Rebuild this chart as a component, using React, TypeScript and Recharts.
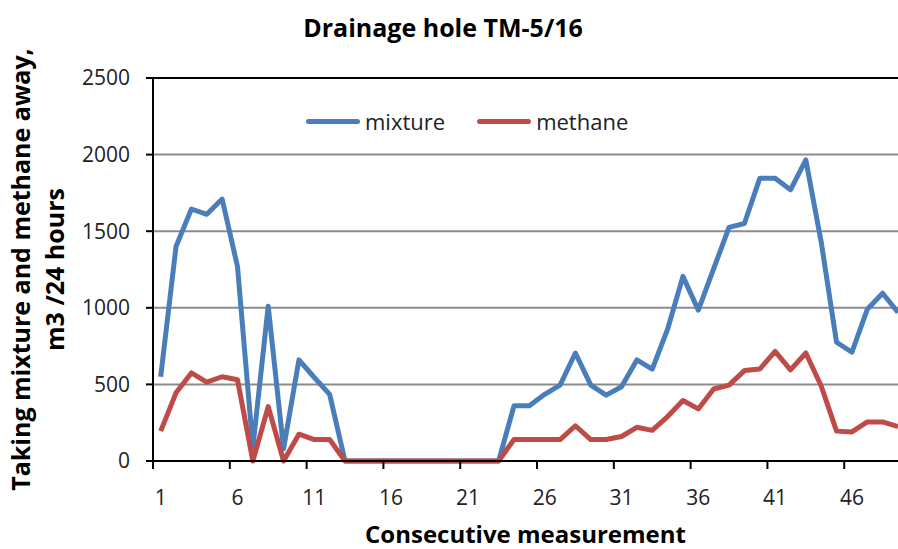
import { LineChart, Line, XAxis, YAxis, CartesianGrid, Legend, ReferenceLine } from 'recharts'

const measurements = [
  1, 2, 3, 4, 5, 6, 7, 8, 9, 10, 11, 12, 13, 14, 15, 16, 17, 18, 19, 20, 21, 22, 23, 24, 25,
  26, 27, 28, 29, 30, 31, 32, 33, 34, 35, 36, 37, 38, 39, 40, 41, 42, 43, 44, 45, 46, 47, 48, 49,
]
const mixture = [
  550, 1400, 1645, 1610, 1710, 1270, 90, 1010, 80, 660, 545, 435, 0, 0, 0, 0, 0, 0, 0, 0, 0, 0, 0,
  360, 360, 435, 495, 705, 495, 430, 485, 660, 600, 860, 1205, 985, 1255, 1525, 1550, 1845, 1845,
  1770, 1965, 1430, 775, 710, 990, 1095, 970,
]
const methane = [
  195, 445, 575, 515, 550, 530, 0, 355, 0, 175, 140, 140, 0, 0, 0, 0, 0, 0, 0, 0, 0, 0, 0,
  140, 140, 140, 140, 230, 140, 140, 160, 220, 200, 290, 395, 340, 470, 495, 590, 600, 715,
  595, 705, 490, 195, 190, 255, 255, 225,
]
const xTicks = [1, 6, 11, 16, 21, 26, 31, 36, 41, 46]
const yTicks = [0, 500, 1000, 1500, 2000, 2500]

const data = measurements.map((n, i) => ({ n, mixture: mixture[i], methane: methane[i] }))

const BLUE = '#4a7ebb'
const RED = '#be4b48'
const FONT = '"Open Sans", sans-serif'
const HALF_STEP = 7.68 // half a category, tick marks sit between categories

function XTick({ x, y, payload }: any) {
  return (
    <g>
      <line x1={x - HALF_STEP} x2={x - HALF_STEP} y1={y} y2={y + 8} stroke="#000" strokeWidth={2} />
      <text x={x} y={y + 44} textAnchor="middle" fontFamily={FONT} fontSize={21} fill="#222">
        {payload.value}
      </text>
    </g>
  )
}

function YTitle({ viewBox }: any) {
  const cy = viewBox.y + viewBox.height / 2
  return (
    <text
      transform={`translate(0, ${cy}) rotate(-90)`}
      textAnchor="middle"
      fontFamily={FONT}
      fontWeight="bold"
      fontSize={25}
      fill="#000"
    >
      <tspan x={0} y={30}>Taking mixture and methane away,</tspan>
      <tspan x={0} y={64}>m3 /24 hours</tspan>
    </text>
  )
}

function LegendBox() {
  const items = [
    { name: 'mixture', color: BLUE },
    { name: 'methane', color: RED },
  ]
  return (
    <div style={{ display: 'flex', alignItems: 'center', fontFamily: FONT, fontSize: 22, color: '#222' }}>
      {items.map((it) => (
        <div key={it.name} style={{ display: 'flex', alignItems: 'center', marginRight: 32 }}>
          <span style={{ width: 54, height: 5, borderRadius: 3, background: it.color, marginRight: 5 }} />
          <span>{it.name}</span>
        </div>
      ))}
    </div>
  )
}

export default function App() {
  return (
    <div style={{ position: 'absolute', left: 0, top: 0, width: 898, height: 549, background: '#fff' }}>
      <div
        style={{
          position: 'absolute',
          left: 0,
          width: 886,
          top: 9,
          textAlign: 'center',
          fontFamily: FONT,
          fontWeight: 'bold',
          fontSize: 25,
          lineHeight: '36px',
          color: '#000',
        }}
      >
        Drainage hole TM-5/16
      </div>
      <LineChart width={898} height={549} data={data} margin={{ top: 78, right: 0, bottom: 0, left: 0 }}>
        <CartesianGrid vertical={false} stroke="#8c8c8c" strokeWidth={2} />
        <ReferenceLine y={2500} stroke="#000" strokeWidth={2} />
        <XAxis
          dataKey="n"
          type="number"
          domain={[0.5, 49]}
          allowDataOverflow
          ticks={xTicks}
          interval={0}
          tickSize={0}
          tickMargin={0}
          tickLine={false}
          tick={<XTick />}
          axisLine={{ stroke: '#000', strokeWidth: 2 }}
          height={88}
          label={{
            value: 'Consecutive measurement',
            position: 'insideBottom',
            offset: 6,
            fontFamily: FONT,
            fontWeight: 'bold',
            fontSize: 24,
            fill: '#000',
          }}
        />
        <YAxis
          width={153}
          domain={[0, 2500]}
          ticks={yTicks}
          interval={0}
          tickSize={7}
          tickMargin={16}
          tickLine={{ stroke: '#000', strokeWidth: 2 }}
          axisLine={{ stroke: '#000', strokeWidth: 2 }}
          tick={{ fontFamily: FONT, fontSize: 21, fill: '#222' }}
          label={<YTitle />}
        />
        <Legend
          layout="horizontal"
          verticalAlign="middle"
          align="center"
          content={<LegendBox />}
          wrapperStyle={{ top: 106, left: 306, width: 400 }}
        />
        <Line
          type="linear"
          dataKey="mixture"
          stroke={BLUE}
          strokeWidth={5}
          dot={false}
          strokeLinejoin="round"
          isAnimationActive={false}
        />
        <Line
          type="linear"
          dataKey="methane"
          stroke={RED}
          strokeWidth={5}
          dot={false}
          strokeLinejoin="round"
          isAnimationActive={false}
        />
      </LineChart>
    </div>
  )
}
